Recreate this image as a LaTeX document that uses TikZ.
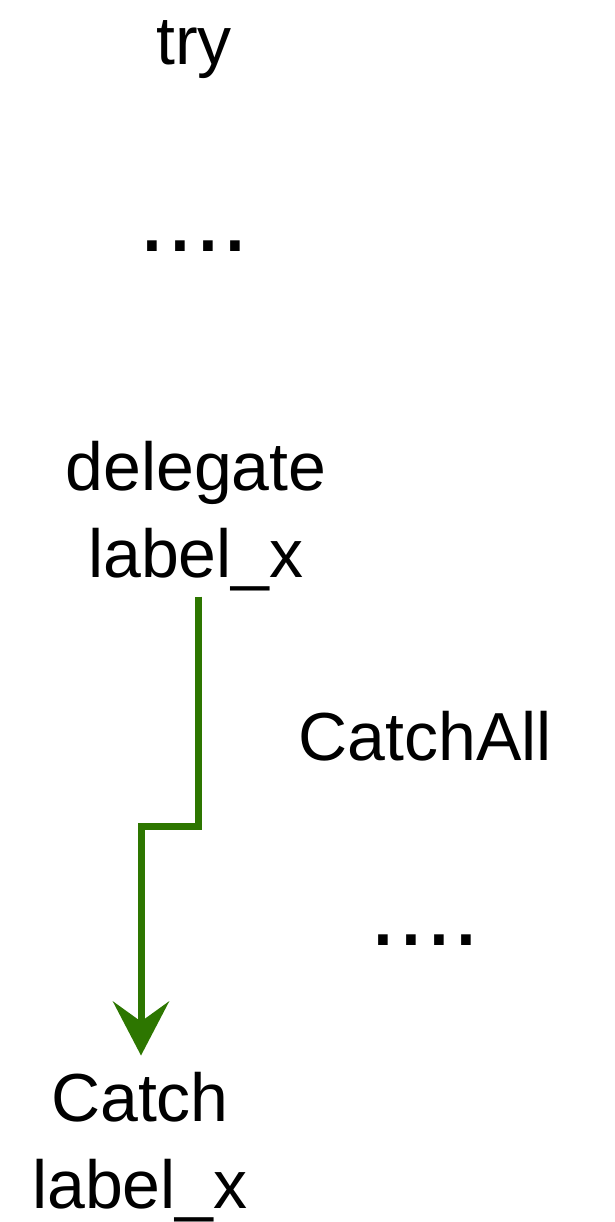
\documentclass[tikz,border=0pt]{standalone}
\usepackage{fontspec}
\setmainfont{Liberation Sans}
\usetikzlibrary{arrows.meta}
\definecolor{flowgreen}{HTML}{2D7600}
\begin{document}
\begin{tikzpicture}[x=1pt,y=-1pt,
  word/.style={inner sep=0pt,align=center,font=\fontsize{68}{87}\selectfont},
  ellip/.style={inner sep=0pt,font=\fontsize{100}{100}\selectfont},
  flow/.style={draw=flowgreen,line width=7pt,
    -{Stealth[length=54pt,width=56pt,inset=20pt]}}]
  \useasboundingbox (0,0) rectangle (615,1222);
  \node[word,anchor=base] (try) at (194,65) {try};
  \node[ellip,anchor=base] (dotsA) at (194,252) {....};
  % base anchor of a two-line node sits on the last line
  \node[word,anchor=base,inner sep=6pt] (dl) at (196,577) {delegate\\label\_x};
  \node[word,anchor=base] (ca) at (425,760) {CatchAll};
  \node[ellip,anchor=base] (dotsB) at (425,945) {....};
  \node[word,anchor=base,inner sep=16pt] (ct) at (140,1208) {Catch\\label\_x};
  \coordinate (bend) at (141,826);
  \draw[flow] ([xshift=2pt]dl.south) -- ([xshift=2pt]dl.south |- bend) -- (bend) -- (bend |- ct.north);
\end{tikzpicture}
\end{document}
